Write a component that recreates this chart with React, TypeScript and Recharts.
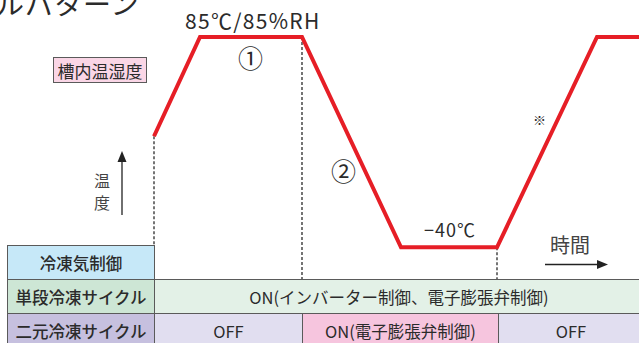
import React from 'react'
import { LineChart, Line, XAxis, YAxis, ReferenceLine } from 'recharts'

// 時間軸（任意単位）と槽内温度(℃)
const times = [0, 4.6, 14.8, 24.7, 34.3, 44.3, 48.5]
const temps = [26, 85, 85, -40, -40, 85, 85]

// 破線の区切り（時間, 上端温度）
const dividerTimes = [0, 14.8, 34.3]
const dividerTops = [26, 85, -40]

const rowLabels = ['冷凍気制御', '単段冷凍サイクル', '二元冷凍サイクル']
const singleCycleText = 'ON(インバーター制御、電子膨張弁制御)'
const dualCycleTexts = ['OFF', 'ON(電子膨張弁制御)', 'OFF']

const data = times.map((t, i) => ({ t, temp: temps[i] }))

const FONT = '"Noto Sans CJK JP", "Noto Sans", sans-serif'
const TEXT = '#2b2b2b'
const BORDER = '#5a5a5a'

const cell = (left: number, top: number, width: number, height: number, bg: string | undefined, text: string, bold = false) => (
  <div
    key={`${left}-${top}`}
    style={{
      position: 'absolute', left, top, width, height, boxSizing: 'border-box',
      border: `1px solid ${BORDER}`, background: bg,
      display: 'flex', alignItems: 'center', justifyContent: 'center',
      fontSize: 16.5, color: TEXT, fontWeight: bold ? 500 : 400, whiteSpace: 'nowrap'
    }}
  >
    {text}
  </div>
)

const abs = (left: number, top: number, style: React.CSSProperties, text: string) => (
  <div style={{ position: 'absolute', left, top, whiteSpace: 'nowrap', color: TEXT, ...style }}>{text}</div>
)

export default function App() {
  return (
    <div style={{ position: 'absolute', left: 0, top: 0, width: 639, height: 343, overflow: 'hidden', background: '#fff', fontFamily: FONT }}>
      <LineChart width={639} height={343} data={data} margin={{ top: 37, right: 0, bottom: 62, left: 154 }}>
        <XAxis dataKey="t" type="number" domain={[0, 48.5]} hide />
        <YAxis type="number" domain={[-60, 85]} hide />
        {dividerTimes.map((t, i) => (
          <ReferenceLine
            key={t}
            segment={[{ x: t, y: dividerTops[i] }, { x: t, y: -60 }]}
            stroke="#1a1a1a"
            strokeDasharray="3 2"
            strokeWidth={1.2}
            ifOverflow="visible"
          />
        ))}
        <Line
          type="linear"
          dataKey="temp"
          stroke="#e61e26"
          strokeWidth={4}
          dot={false}
          isAnimationActive={false}
          strokeLinejoin="miter"
        />
      </LineChart>

      {/* タイトル（切れている） */}
      {abs(-4, -15, { fontSize: 28, lineHeight: '36px', letterSpacing: 1 }, 'ルパターン')}

      {abs(185, 6, { fontSize: 21, lineHeight: '28px', letterSpacing: 1.3 }, '85℃/85%RH')}
      {abs(238, 42, { fontSize: 25, lineHeight: '30px' }, '①')}
      {abs(331, 155, { fontSize: 25, lineHeight: '30px' }, '②')}
      {abs(424, 217, { fontSize: 18, lineHeight: '24px', letterSpacing: 1 }, '−40℃')}
      {abs(533, 111, { fontSize: 13, lineHeight: '18px' }, '※')}

      <div
        style={{
          position: 'absolute', left: 53, top: 57, width: 94, height: 26, boxSizing: 'border-box',
          border: `1px solid ${BORDER}`, background: '#fad6e6', fontSize: 17, color: TEXT,
          display: 'flex', alignItems: 'center', justifyContent: 'center'
        }}
      >
        槽内温湿度
      </div>

      {abs(94, 170, { fontSize: 16, lineHeight: '20px', height: 20, color: '#444' }, '温')}
      {abs(94, 192, { fontSize: 16, lineHeight: '20px', height: 20, color: '#444' }, '度')}
      {abs(550, 232, { fontSize: 20, lineHeight: '26px', color: '#444' }, '時間')}

      <svg width={639} height={343} style={{ position: 'absolute', left: 0, top: 0 }}>
        <line x1={122} y1={160} x2={122} y2={215} stroke="#222" strokeWidth={1.3} />
        <polygon points="122,151 117.5,162 126.5,162" fill="#222" />
        <line x1={545} y1={264.5} x2={598} y2={264.5} stroke="#222" strokeWidth={1.3} />
        <polygon points="608,264.5 597,260 597,269" fill="#222" />
      </svg>

      {/* 制御テーブル */}
      {cell(7, 245, 148, 35, '#c6e8f8', rowLabels[0], true)}
      {cell(7, 279, 148, 35, '#cde6d5', rowLabels[1], true)}
      {cell(154, 279, 490, 35, '#e3f1e7', singleCycleText)}
      {cell(7, 313, 148, 35, '#c6c0df', rowLabels[2], true)}
      {cell(154, 313, 149, 35, '#e1def0', dualCycleTexts[0])}
      {cell(302, 313, 197, 35, '#f6c5de', dualCycleTexts[1])}
      {cell(498, 313, 146, 35, '#e1def0', dualCycleTexts[2])}
    </div>
  )
}
